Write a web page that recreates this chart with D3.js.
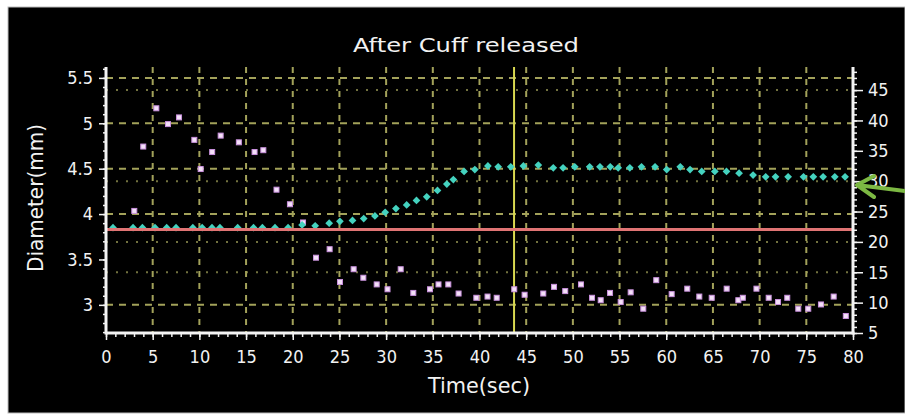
<!DOCTYPE html>
<html>
<head>
<meta charset="utf-8">
<script src="https://cdn.jsdelivr.net/npm/d3@7"></script>
<style>
  html, body { margin: 0; padding: 0; background: #ffffff; }
  svg { display: block; }
  text { font-family: "DejaVu Sans", sans-serif; font-stretch: condensed; fill: #f2f2f2; }
</style>
</head>
<body>
<svg id="chart" width="905" height="420"></svg>
<script>
// values
const diamTime = [0.75, 2.9, 3.9, 5.25, 6.5, 7.5, 9.3, 10.3, 11.35, 12.2, 14.1, 15.8, 16.75, 18.1, 19.5,
  21.0, 22.4, 23.9, 25.05, 26.4, 27.6, 28.8, 29.9, 31.05, 32.2, 33.25, 34.35, 35.5, 36.5, 37.2, 38.35, 39.5,
  40.9, 42.0, 43.35, 44.7, 46.3, 47.9, 48.95, 50.2, 51.8, 52.9, 54.0, 54.85, 56.1, 57.35, 58.8, 60.05,
  61.5, 62.55, 63.8, 65.2, 66.45, 67.8, 69.3, 70.65, 71.7, 73.05, 74.7, 75.75, 76.8, 78.05, 79.15];
const diamMM = [3.85, 3.85, 3.85, 3.85, 3.85, 3.85, 3.85, 3.85, 3.85, 3.85, 3.85, 3.85, 3.85, 3.85, 3.85,
  3.88, 3.87, 3.90, 3.92, 3.93, 3.95, 3.98, 4.02, 4.06, 4.10, 4.15, 4.19, 4.26, 4.33, 4.38, 4.47, 4.49,
  4.53, 4.52, 4.52, 4.53, 4.54, 4.51, 4.51, 4.52, 4.52, 4.52, 4.52, 4.51, 4.51, 4.52, 4.52, 4.49,
  4.52, 4.49, 4.47, 4.47, 4.47, 4.45, 4.43, 4.41, 4.41, 4.41, 4.41, 4.41, 4.41, 4.41, 4.41];

const velTime = [3.03, 3.99, 5.39, 6.64, 7.82, 9.46, 10.14, 11.37, 12.28, 14.23, 15.91, 16.85, 18.26, 19.7,
  21.1, 22.49, 23.95, 25.06, 26.52, 27.56, 28.99, 30.15, 31.56, 32.91, 34.7, 35.61, 36.66, 37.76, 39.66,
  40.86, 41.84, 43.72, 44.83, 46.83, 47.98, 49.18, 50.87, 52.05, 52.98, 53.98, 55.12, 56.19, 57.54, 58.93,
  60.58, 62.25, 63.54, 64.87, 66.47, 67.72, 68.2, 69.66, 70.97, 71.97, 72.96, 74.14, 75.21, 76.57, 77.93, 79.23];
const velValue = [25.1, 35.7, 42.0, 39.4, 40.5, 36.8, 32.0, 34.8, 37.5, 36.4, 34.8, 35.1, 28.6, 26.2,
  23.2, 17.4, 18.8, 13.4, 15.5, 14.1, 13.0, 12.2, 15.5, 11.6, 12.2, 13.0, 13.0, 11.5, 10.8,
  11.0, 10.8, 12.2, 11.3, 11.5, 12.6, 11.9, 13.0, 10.8, 10.4, 11.6, 10.1, 11.7, 9.0, 13.7,
  11.4, 12.3, 11.0, 10.8, 12.3, 10.4, 10.8, 12.3, 10.8, 10.1, 10.8, 9.0, 9.0, 9.7, 11.0, 7.8];

const baselineMM = 3.83;
const cursorTime = 43.7;

const xTicks = [0, 5, 10, 15, 20, 25, 30, 35, 40, 45, 50, 55, 60, 65, 70, 75, 80];
const leftTicks = [3, 3.5, 4, 4.5, 5, 5.5];
const rightTicks = [5, 10, 15, 20, 25, 30, 35, 40, 45];
const leftGrid = [3, 4, 4.5, 5, 5.5];
const rightGrid = [15, 20, 30, 45];

const titleText = "After Cuff released";
const xLabel = "Time(sec)";
const yLabel = "Diameter(mm)";

// layout
const svg = d3.select("#chart");
const plotL = 106, plotR = 853, plotT = 67, plotB = 333;

const x = d3.scaleLinear().domain([0, 80]).range([plotL, plotR]);
const yL = d3.scaleLinear().domain([2.69, 5.62]).range([plotB, plotT]);
const yR = d3.scaleLinear().domain([5, 48.8]).range([plotB, plotT]);

svg.append("rect").attr("x", 8).attr("y", 7).attr("width", 897).attr("height", 406)
  .attr("fill", "#000").attr("stroke", "#bbb").attr("stroke-width", 1);

const gridColor = "#a3a25a";
const grid = svg.append("g");

// vertical dashed grid
grid.selectAll("line.v").data(xTicks.filter(d => d > 0 && d < 80)).enter().append("line")
  .attr("x1", d => x(d)).attr("x2", d => x(d)).attr("y1", plotT).attr("y2", plotB)
  .attr("stroke", gridColor).attr("stroke-width", 2).attr("stroke-dasharray", "6,6");

// horizontal dashed grid (left axis)
grid.selectAll("line.h").data(leftGrid).enter().append("line")
  .attr("x1", plotL).attr("x2", plotR).attr("y1", d => yL(d)).attr("y2", d => yL(d))
  .attr("stroke", gridColor).attr("stroke-width", 2).attr("stroke-dasharray", "7,6");

// horizontal dotted grid (right axis)
grid.selectAll("line.r").data(rightGrid).enter().append("line")
  .attr("x1", plotL).attr("x2", plotR).attr("y1", d => yR(d)).attr("y2", d => yR(d))
  .attr("stroke", gridColor).attr("stroke-opacity", 0.7).attr("stroke-width", 2).attr("stroke-dasharray", "2,8");

// cursor line
svg.append("line").attr("x1", x(cursorTime)).attr("x2", x(cursorTime)).attr("y1", plotT).attr("y2", plotB)
  .attr("stroke", "#d8d850").attr("stroke-width", 2);

// velocity points (right axis)
svg.append("g").selectAll("rect").data(velTime).enter().append("rect")
  .attr("x", d => x(d) - 2.5).attr("y", (d, i) => yR(velValue[i]) - 2.5)
  .attr("width", 5).attr("height", 5)
  .attr("fill", "#f4e0f8").attr("stroke", "#c890dc").attr("stroke-width", 1);

// diameter points (left axis)
const diamond = d3.symbol().type(d3.symbolSquare).size(30);
svg.append("g").selectAll("path").data(diamTime).enter().append("path")
  .attr("d", diamond)
  .attr("transform", (d, i) => `translate(${x(d)},${yL(diamMM[i])}) rotate(45)`)
  .attr("fill", "#44d2bf");

// baseline
svg.append("line").attr("x1", plotL).attr("x2", plotR).attr("y1", yL(baselineMM)).attr("y2", yL(baselineMM))
  .attr("stroke", "#e07474").attr("stroke-width", 3);

// axes
function styleAxis(g) {
  g.select(".domain").remove();
  g.selectAll("line").attr("stroke", "#f2f2f2").attr("stroke-width", 1.5);
  g.selectAll("text").attr("font-size", 18).attr("fill", "#f2f2f2");
}

svg.append("g").attr("transform", `translate(0,${plotB})`)
  .call(d3.axisBottom(x).tickValues(d3.range(0, 81, 1)).tickSize(4).tickFormat(""))
  .call(styleAxis);
svg.append("g").attr("transform", `translate(0,${plotB})`)
  .call(d3.axisBottom(x).tickValues(xTicks).tickSize(7).tickPadding(10))
  .call(styleAxis);

svg.append("g").attr("transform", `translate(${plotL},0)`)
  .call(d3.axisLeft(yL).tickValues(d3.range(2.7, 5.61, 0.1)).tickSize(3).tickFormat(""))
  .call(styleAxis);
svg.append("g").attr("transform", `translate(${plotL},0)`)
  .call(d3.axisLeft(yL).tickValues(leftTicks).tickSize(7).tickPadding(6).tickFormat(d3.format("")))
  .call(styleAxis);

svg.append("g").attr("transform", `translate(${plotR},0)`)
  .call(d3.axisRight(yR).tickValues(d3.range(5, 49, 1)).tickSize(4).tickFormat(""))
  .call(styleAxis);
svg.append("g").attr("transform", `translate(${plotR},0)`)
  .call(d3.axisRight(yR).tickValues(rightTicks).tickSize(10).tickPadding(5))
  .call(styleAxis);

// frame lines
svg.append("line").attr("x1", plotL).attr("x2", plotR + 1.5).attr("y1", plotB).attr("y2", plotB)
  .attr("stroke", "#f4f4f4").attr("stroke-width", 3);
svg.append("line").attr("x1", plotL).attr("x2", plotL).attr("y1", plotT).attr("y2", plotB + 1.5)
  .attr("stroke", "#f4f4f4").attr("stroke-width", 3);
svg.append("line").attr("x1", plotR).attr("x2", plotR).attr("y1", plotT).attr("y2", plotB + 1.5)
  .attr("stroke", "#f4f4f4").attr("stroke-width", 3);

// titles
svg.append("text").attr("x", 466).attr("y", 52).attr("text-anchor", "middle")
  .attr("font-size", 19).attr("textLength", 226).attr("lengthAdjust", "spacingAndGlyphs")
  .text(titleText);
svg.append("text").attr("x", 479).attr("y", 393).attr("text-anchor", "middle")
  .attr("font-size", 22).attr("textLength", 102).attr("lengthAdjust", "spacingAndGlyphs")
  .text(xLabel);
svg.append("text").attr("transform", "translate(43,198) rotate(-90)").attr("text-anchor", "middle")
  .attr("font-size", 22).attr("textLength", 148).attr("lengthAdjust", "spacingAndGlyphs")
  .text(yLabel);

// arrow annotation
svg.append("path")
  .attr("d", "M905,191 L857,185 M874,176 L857,185 L874,197")
  .attr("fill", "none").attr("stroke", "#7cb843").attr("stroke-width", 4)
  .attr("stroke-linecap", "round").attr("stroke-linejoin", "round");
</script>
</body>
</html>
